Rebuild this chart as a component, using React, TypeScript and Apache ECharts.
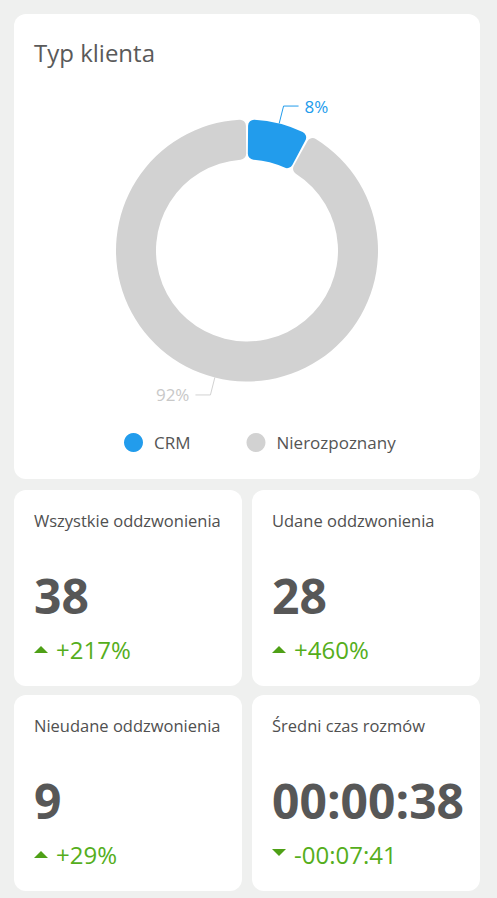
import React, { useEffect, useRef } from "react";
import * as echarts from "echarts";

const categories = ["CRM", "Nierozpoznany"];
const clientValues = [3, 35];
const sliceColors = ["#229cec", "#d2d2d2"];
const labelColors = ["#229cec", "#c8c8c8"];

const kpiTitles = ["Wszystkie oddzwonienia", "Udane oddzwonienia", "Nieudane oddzwonienia", "Średni czas rozmów"];
const kpiValues = ["38", "28", "9", "00:00:38"];
const kpiChanges = ["+217%", "+460%", "+29%", "-00:07:41"];
const kpiTrends = ["up", "up", "up", "down"];

const FONT = "'Open Sans', 'Noto Sans', sans-serif";

export default function App() {
  const ref = useRef<HTMLDivElement>(null);
  useEffect(() => {
    if (!ref.current) return;
    const chart = echarts.init(ref.current, undefined, { renderer: "svg" });

    const cardPos = [
      { x: 14, y: 490 },
      { x: 252, y: 490 },
      { x: 14, y: 695 },
      { x: 252, y: 695 },
    ];
    const graphics: any[] = [
      { type: "rect", z: -10, shape: { x: 14, y: 14, width: 466, height: 465, r: 12 }, style: { fill: "#ffffff" } },
      {
        type: "text",
        x: 34,
        y: 52,
        style: { text: "Typ klienta", fill: "#5a5a5a", font: `24px ${FONT}`, verticalAlign: "middle" },
      },
    ];
    cardPos.forEach((p, i) => {
      graphics.push({ type: "rect", z: -10, shape: { x: p.x, y: p.y, width: 228, height: 196, r: 12 }, style: { fill: "#ffffff" } });
      graphics.push({
        type: "text",
        x: p.x + 20,
        y: p.y + 30,
        style: { text: kpiTitles[i], fill: "#505050", font: `16.5px ${FONT}`, verticalAlign: "middle" },
      });
      graphics.push({
        type: "text",
        x: p.x + 20,
        y: p.y + 105,
        style: { text: kpiValues[i], fill: "#575757", font: `bold 48px ${FONT}`, verticalAlign: "middle" },
      });
      graphics.push({
        type: "text",
        x: p.x + 42,
        y: p.y + 159,
        style: { text: kpiChanges[i], fill: "#55ae1c", font: `24px ${FONT}`, verticalAlign: "middle" },
      });
      const tx = p.x + 20;
      const pts =
        kpiTrends[i] === "up"
          ? [[tx, p.y + 163], [tx + 14, p.y + 163], [tx + 7, p.y + 156]]
          : [[tx, p.y + 154], [tx + 14, p.y + 154], [tx + 7, p.y + 161]];
      graphics.push({ type: "polygon", shape: { points: pts }, style: { fill: "#4ea016" } });
    });

    chart.setOption({
      animation: false,
      backgroundColor: "#eff0ef",
      textStyle: { fontFamily: FONT },
      graphic: graphics,
      legend: {
        data: categories,
        left: 119,
        top: 428,
        icon: "circle",
        itemWidth: 19,
        itemHeight: 19,
        itemGap: 56,
        textStyle: { fontFamily: FONT, fontSize: 17, color: "#555555", padding: [0, 0, 0, 6] },
      },
      series: [
        {
          type: "pie",
          center: [247, 250.5],
          radius: [91, 131],
          startAngle: 90,
          padAngle: 1,
          percentPrecision: 0,
          itemStyle: { borderRadius: 6 },
          label: {
            formatter: "{d}%",
            fontFamily: FONT,
            fontSize: 17,
            distanceToLabelLine: 6,
          },
          labelLine: { length: 18, length2: 15, lineStyle: { width: 1 } },
          emphasis: { disabled: true },
          data: categories.map((name, i) => ({
            name,
            value: clientValues[i],
            itemStyle: { color: sliceColors[i] },
            label: { color: labelColors[i] },
          })),
        },
      ],
    });
    return () => chart.dispose();
  }, []);
  return <div ref={ref} style={{ position: "fixed", left: 0, top: 0, width: 497, height: 898 }} />;
}
